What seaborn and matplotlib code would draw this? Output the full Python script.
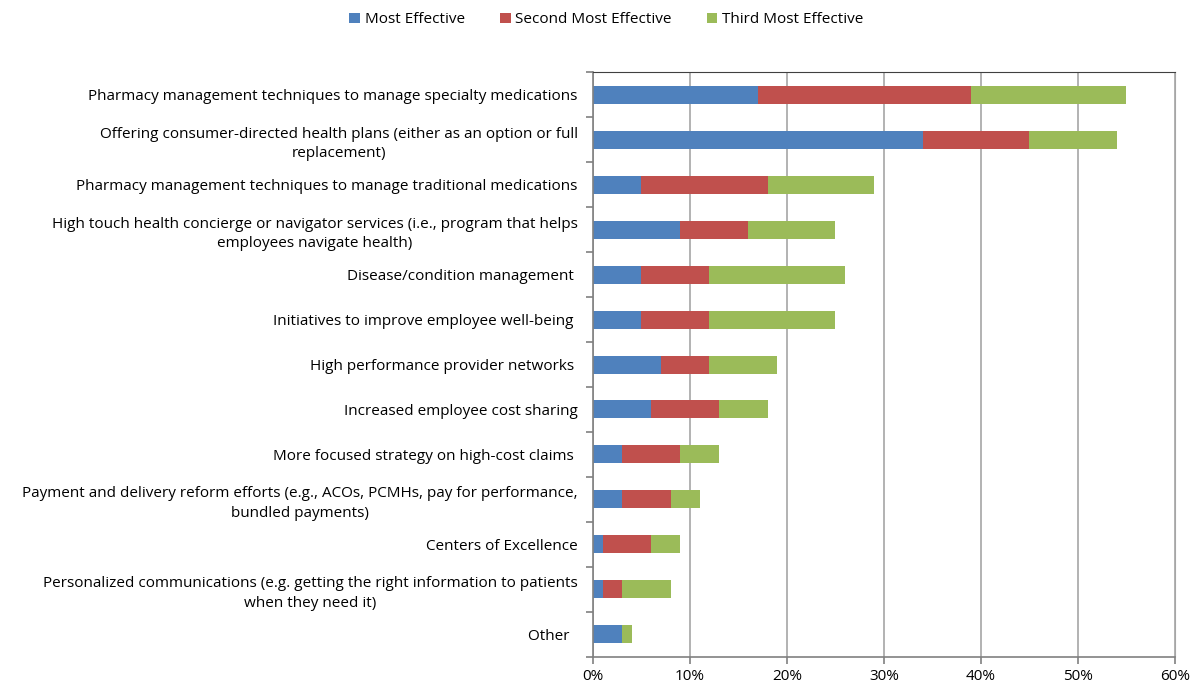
import matplotlib
matplotlib.use("Agg")
import matplotlib.pyplot as plt
import seaborn as sns
import pandas as pd
import numpy as np

# categories (top to bottom) and values in %
categories = [
    "Pharmacy management techniques to manage specialty medications",
    "Offering consumer-directed health plans (either as an option or full\nreplacement)",
    "Pharmacy management techniques to manage traditional medications",
    "High touch health concierge or navigator services (i.e., program that helps\nemployees navigate health)",
    "Disease/condition management ",
    "Initiatives to improve employee well-being ",
    "High performance provider networks ",
    "Increased employee cost sharing",
    "More focused strategy on high-cost claims ",
    "Payment and delivery reform efforts (e.g., ACOs, PCMHs, pay for performance,\nbundled payments)",
    "Centers of Excellence",
    "Personalized communications (e.g. getting the right information to patients\nwhen they need it)",
    "Other  ",
]
most = [17, 34, 5, 9, 5, 5, 7, 6, 3, 3, 1, 1, 3]
second = [22, 11, 13, 7, 7, 7, 5, 7, 6, 5, 5, 2, 0]
third = [16, 9, 11, 9, 14, 13, 7, 5, 4, 3, 3, 5, 1]
series_names = ["Most Effective", "Second Most Effective", "Third Most Effective"]
colors = ["#4F81BD", "#C0504D", "#9BBB59"]

sns.set_style("white")
plt.rcParams["font.family"] = ["Open Sans", "DejaVu Sans"]
plt.rcParams["text.color"] = "black"
plt.rcParams["xtick.color"] = "black"
plt.rcParams["ytick.color"] = "black"

df = pd.DataFrame({"cat": categories, "m": most, "s": second, "t": third})
df["c1"] = df["m"]
df["c2"] = df["m"] + df["s"]
df["c3"] = df["c2"] + df["t"]

fig = plt.figure(figsize=(11.96, 6.88), dpi=100)
ax = fig.add_axes([0.4958, 0.0451, 0.4866, 0.8502])

# draw longest (cumulative) first so shorter layers sit on top
for col, color, name in [("c3", colors[2], series_names[2]),
                         ("c2", colors[1], series_names[1]),
                         ("c1", colors[0], series_names[0])]:
    sns.barplot(data=df, x=col, y="cat", color=color, width=0.4,
                orient="h", ax=ax, label=name, saturation=1, linewidth=0)

ax.set_xlim(0, 60)
ax.set_ylim(len(categories) - 0.5, -0.5)
ax.set_xticks(np.arange(0, 61, 10))
ax.set_xticklabels([f"{v}%" for v in range(0, 61, 10)], fontsize=11)
ax.xaxis.grid(True, color="#A6A6A6", linewidth=1.2)
ax.set_axisbelow(True)
ax.set_xlabel("")
ax.set_ylabel("")

ax.set_yticks(range(len(categories)))
ax.set_yticklabels(categories, fontsize=11)
for lab in ax.get_yticklabels():
    lab.set_multialignment("center")
    lab.set_linespacing(1.45)
ax.tick_params(axis="y", which="major", left=True, length=0, pad=11)
ax.set_yticks(np.arange(-0.5, len(categories), 1), minor=True)
ax.tick_params(axis="y", which="minor", left=True, length=5, width=1.2,
               color="#808080", direction="out")
ax.tick_params(axis="x", which="major", bottom=True, length=5, width=1.2,
               color="#808080", direction="out", pad=4)

for side in ["left", "bottom"]:
    ax.spines[side].set_color("#808080")
    ax.spines[side].set_linewidth(1.2)
ax.spines["top"].set_color("#404040")
ax.spines["right"].set_color("#A6A6A6")

handles, labels = ax.get_legend_handles_labels()
order = [labels.index(n) for n in series_names]
fig.legend([handles[i] for i in order], [labels[i] for i in order],
           loc="center", bbox_to_anchor=(0.507, 0.971), ncol=3, frameon=False,
           fontsize=11, handlelength=0.7, handleheight=0.7, handletextpad=0.3,
           columnspacing=2.3)
if ax.get_legend():
    ax.get_legend().remove()

fig.savefig("out.png", dpi=100)
